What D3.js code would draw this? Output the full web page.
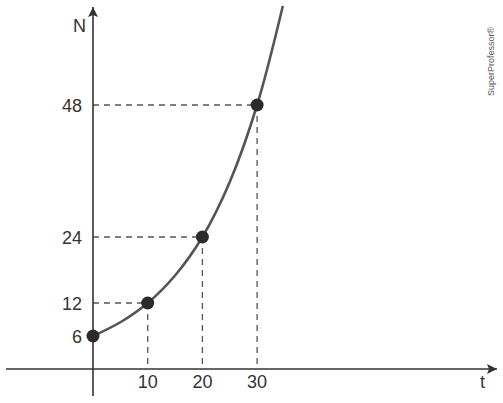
<!DOCTYPE html>
<html><head><meta charset="utf-8">
<script src="https://cdn.jsdelivr.net/npm/d3@7"></script>
<style>body{margin:0;background:#fff}svg{display:block}</style>
</head><body>
<svg id="c" width="503" height="403"></svg>
<script>
const tTicks = [10, 20, 30];
const nTicks = [6, 12, 24, 48];
const pointsT = [0, 10, 20, 30];
const pointsN = [6, 12, 24, 48];
const curveT = [0, 5, 10, 15, 20, 25, 30, 34.7];
const curveN = [6, 8.5, 12, 17, 24, 34, 48, 66];

const svg = d3.select("#c");
const x = d3.scaleLinear().domain([0, 10]).range([93, 147.7]);
const y = d3.scaleLinear().domain([0, 48]).range([369, 105]);
const ink = "#333";

svg.append("defs").append("marker").attr("id","ar").attr("viewBox","0 0 10 10")
  .attr("refX",10).attr("refY",5).attr("markerWidth",10).attr("markerHeight",10)
  .attr("markerUnits","userSpaceOnUse").attr("orient","auto")
  .append("path").attr("d","M0,0 L10,5 L0,10 L2,5 Z").attr("fill",ink);

// guides
const g = svg.append("g").attr("stroke","#555").attr("stroke-width",1.3).attr("stroke-dasharray","6,5").attr("fill","none");
pointsT.forEach((t,i)=>{
  if(t===0) return;
  g.append("line").attr("x1",x(0)).attr("x2",x(t)).attr("y1",y(pointsN[i])).attr("y2",y(pointsN[i]));
  g.append("line").attr("x1",x(t)).attr("x2",x(t)).attr("y1",y(pointsN[i])).attr("y2",y(0));
});

// axes
svg.append("line").attr("x1",6).attr("x2",497).attr("y1",y(0)).attr("y2",y(0))
  .attr("stroke",ink).attr("stroke-width",1.6).attr("marker-end","url(#ar)");
svg.append("line").attr("x1",x(0)).attr("x2",x(0)).attr("y1",396).attr("y2",7)
  .attr("stroke",ink).attr("stroke-width",1.6).attr("marker-end","url(#ar)");

// curve
const data = curveT.map((t,i)=>[t,curveN[i]]);
svg.append("path").datum(data)
  .attr("d", d3.line().x(d=>x(d[0])).y(d=>y(d[1])).curve(d3.curveCatmullRom.alpha(0.5)))
  .attr("fill","none").attr("stroke","#555").attr("stroke-width",2.6);

// points
svg.selectAll("circle.p").data(pointsT).join("circle")
  .attr("cx",t=>x(t)).attr("cy",(t,i)=>y(pointsN[i])).attr("r",6.5).attr("fill","#2b2b2b");

// tick labels
const font = "Liberation Sans, Arial, sans-serif";
svg.selectAll("text.tx").data(tTicks).join("text")
  .attr("x",t=>x(t)).attr("y",388).attr("text-anchor","middle")
  .attr("font-family",font).attr("font-size",18).attr("fill",ink).text(d=>d);
svg.selectAll("text.ty").data(nTicks).join("text")
  .attr("x",82).attr("y",n=>y(n)+6.5).attr("text-anchor","end")
  .attr("font-family",font).attr("font-size",18).attr("fill",ink).text(d=>d);

svg.append("text").attr("x",73).attr("y",32).attr("font-family",font).attr("font-size",18).attr("fill",ink).text("N");
svg.append("text").attr("x",480).attr("y",388).attr("font-family",font).attr("font-size",18).attr("fill",ink).text("t");

svg.append("text").attr("transform","translate(494,96) rotate(-90)")
  .attr("font-family",font).attr("font-size",9).attr("fill","#555").text("SuperProfessor®");
</script>
</body></html>
